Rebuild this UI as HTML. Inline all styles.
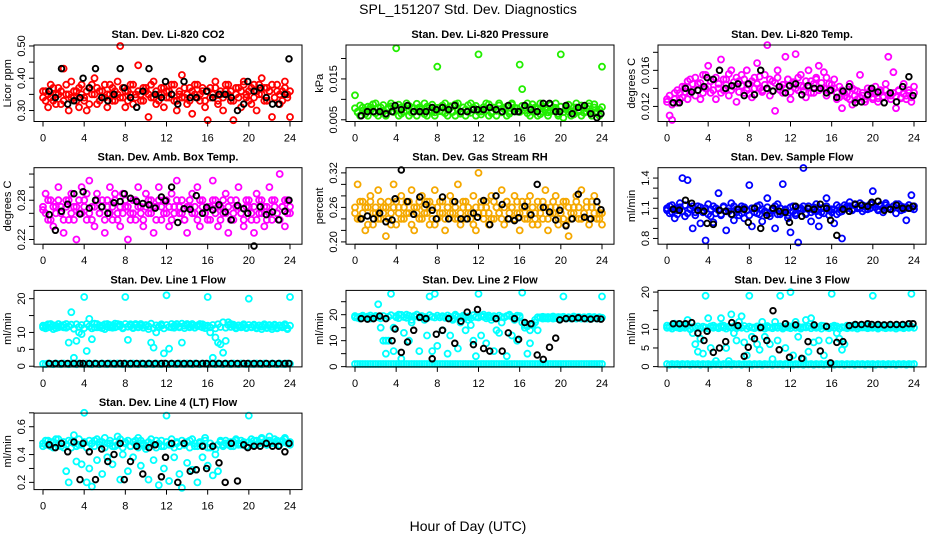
<!DOCTYPE html>
<html><head><meta charset="utf-8"><style>
html,body{margin:0;padding:0;background:#fff;}
svg{display:block;font-family:"Liberation Sans",sans-serif;}
</style></head><body>
<svg id="fig" width="936" height="540" viewBox="0 0 936 540">
<text x="468" y="14" text-anchor="middle" font-size="14">SPL_151207  Std. Dev. Diagnostics</text>
<text x="468" y="531" text-anchor="middle" font-size="14">Hour of Day (UTC)</text>
</svg>
<script>
const H=[0,0.25,0.5,0.75,1,1.25,1.5,1.75,2,2.25,2.5,2.75,3,3.25,3.5,3.75,4,4.25,4.5,4.75,5,5.25,5.5,5.75,6,6.25,6.5,6.75,7,7.25,7.5,7.75,8,8.25,8.5,8.75,9,9.25,9.5,9.75,10,10.25,10.5,10.75,11,11.25,11.5,11.75,12,12.25,12.5,12.75,13,13.25,13.5,13.75,14,14.25,14.5,14.75,15,15.25,15.5,15.75,16,16.25,16.5,16.75,17,17.25,17.5,17.75,18,18.25,18.5,18.75,19,19.25,19.5,19.75,20,20.25,20.5,20.75,21,21.25,21.5,21.75,22,22.25,22.5,22.75,23,23.25,23.5,23.75,24];
const BH=[0.6,1.2,1.8,2.4,3.0,3.6,3.9,4.5,5.1,5.7,6.3,6.9,7.5,7.9,8.5,9.1,9.7,10.3,10.9,11.5,11.9,12.5,13.1,13.7,14.3,14.9,15.5,15.9,16.5,17.1,17.7,18.3,18.9,19.5,19.9,20.5,21.1,21.7,22.3,22.9,23.5,23.9];
const xTicks=[0,4,8,12,16,20,24];

const co2A=[0.34,0.36,0.31,0.38,0.33,0.35,0.37,0.32,0.43,0.35,0.30,0.39,0.34,0.36,0.31,0.38,0.33,0.30,0.37,0.35,0.40,0.32,0.36,0.34,0.38,0.31,0.35,0.37,0.33,0.39,0.50,0.34,0.31,0.36,0.38,0.32,0.35,0.44,0.33,0.37,0.36,0.28,0.34,0.39,0.32,0.35,0.37,0.31,0.36,0.34,0.38,0.33,0.30,0.35,0.41,0.34,0.32,0.37,0.29,0.35,0.38,0.33,0.36,0.31,0.27,0.37,0.34,0.39,0.32,0.35,0.30,0.36,0.38,0.33,0.27,0.35,0.37,0.31,0.39,0.34,0.36,0.32,0.38,0.30,0.35,0.40,0.33,0.37,0.36,0.28,0.34,0.38,0.32,0.36,0.39,0.35,0.28];
const co2B=[0.36,0.33,0.35,0.34,0.37,0.32,0.35,0.36,0.33,0.38,0.35,0.34,0.36,0.33,0.37,0.35,0.34,0.36,0.32,0.38,0.35,0.37,0.33,0.36,0.34,0.35,0.38,0.33,0.36,0.35,0.34,0.37,0.36,0.33,0.35,0.38,0.34,0.36,0.35,0.33,0.37,0.35,0.38,0.34,0.36,0.33,0.35,0.37,0.34,0.36,0.35,0.38,0.33,0.36,0.34,0.37,0.35,0.33,0.36,0.38,0.34,0.35,0.37,0.33,0.36,0.34,0.35,0.37,0.33,0.36,0.34,0.38,0.35,0.36,0.33,0.37,0.34,0.36,0.38,0.35,0.33,0.37,0.34,0.36,0.38,0.35,0.37,0.33,0.36,0.38,0.34,0.36,0.35,0.33,0.37,0.34,0.36];
const co2K=[0.36,0.34,0.43,0.32,0.33,0.34,0.40,0.37,0.43,0.34,0.33,0.35,0.43,0.37,0.34,0.31,0.36,0.43,0.35,0.34,0.39,0.35,0.32,0.39,0.34,0.34,0.46,0.36,0.34,0.35,0.35,0.34,0.30,0.32,0.39,0.36,0.37,0.34,0.32,0.32,0.35,0.46];
const prA=[0.011,0.007,0.006,0.008,0.007,0.006,0.008,0.007,0.009,0.006,0.008,0.007,0.006,0.008,0.009,0.007,0.0225,0.006,0.008,0.007,0.009,0.006,0.008,0.007,0.006,0.008,0.007,0.009,0.006,0.008,0.007,0.006,0.018,0.008,0.007,0.009,0.006,0.008,0.007,0.006,0.009,0.007,0.008,0.006,0.007,0.009,0.008,0.006,0.021,0.007,0.008,0.009,0.006,0.007,0.008,0.006,0.009,0.007,0.008,0.006,0.007,0.009,0.008,0.007,0.0185,0.0125,0.008,0.009,0.006,0.007,0.008,0.006,0.009,0.007,0.008,0.006,0.007,0.008,0.009,0.006,0.021,0.0055,0.008,0.007,0.006,0.008,0.009,0.007,0.006,0.008,0.007,0.009,0.006,0.008,0.007,0.006,0.018];
const prB=[0.0078,0.0068,0.0085,0.0072,0.0064,0.0082,0.0075,0.0088,0.0066,0.0079,0.0071,0.0086,0.0063,0.0077,0.0083,0.0069,0.0074,0.0087,0.0065,0.0080,0.0072,0.0084,0.0067,0.0078,0.0089,0.0070,0.0076,0.0064,0.0082,0.0073,0.0087,0.0068,0.0079,0.0071,0.0085,0.0066,0.0077,0.0083,0.0069,0.0088,0.0072,0.0065,0.0080,0.0075,0.0086,0.0067,0.0078,0.0084,0.0070,0.0063,0.0081,0.0074,0.0088,0.0066,0.0079,0.0072,0.0085,0.0068,0.0076,0.0082,0.0065,0.0087,0.0071,0.0078,0.0069,0.0084,0.0073,0.0066,0.0080,0.0088,0.0070,0.0077,0.0064,0.0083,0.0075,0.0068,0.0086,0.0072,0.0079,0.0065,0.0082,0.0069,0.0076,0.0087,0.0071,0.0063,0.0080,0.0074,0.0085,0.0067,0.0078,0.0083,0.0070,0.0088,0.0066,0.0075,0.0081];
const prK=[0.006,0.007,0.007,0.007,0.0065,0.007,0.0085,0.0075,0.0085,0.007,0.007,0.007,0.008,0.0075,0.008,0.0075,0.0085,0.007,0.007,0.0075,0.0075,0.0075,0.008,0.0075,0.007,0.0085,0.007,0.007,0.0085,0.0075,0.007,0.009,0.009,0.007,0.007,0.0085,0.0065,0.008,0.0085,0.0065,0.0055,0.0065];
const tpA=[0.0125,0.011,0.0105,0.0128,0.0124,0.0135,0.013,0.0142,0.0128,0.015,0.0138,0.0132,0.0145,0.0128,0.0155,0.014,0.0165,0.0135,0.015,0.0128,0.0145,0.0172,0.0138,0.015,0.0132,0.016,0.0142,0.0125,0.0148,0.0155,0.0135,0.016,0.0145,0.013,0.0152,0.0168,0.014,0.0138,0.0155,0.0188,0.0132,0.0148,0.0115,0.016,0.0142,0.0135,0.0175,0.015,0.0128,0.0145,0.0178,0.0138,0.0155,0.0142,0.013,0.016,0.0148,0.0135,0.0152,0.0165,0.014,0.0158,0.0132,0.0145,0.0138,0.015,0.0128,0.0142,0.0118,0.0135,0.013,0.0145,0.0122,0.0138,0.0128,0.0155,0.0132,0.0125,0.014,0.0136,0.0128,0.0142,0.0125,0.0138,0.013,0.0145,0.0175,0.0132,0.0158,0.0118,0.0138,0.013,0.0145,0.0128,0.0135,0.0125,0.0142];
const tpB=[0.0128,0.0132,0.0122,0.0135,0.0138,0.0128,0.0142,0.0136,0.0148,0.0134,0.0145,0.0152,0.0138,0.0146,0.0135,0.0155,0.0142,0.0148,0.0138,0.0152,0.0140,0.0135,0.0150,0.0144,0.0156,0.0138,0.0147,0.0152,0.0136,0.0143,0.0150,0.0138,0.0134,0.0148,0.0140,0.0145,0.0153,0.0136,0.0144,0.0140,0.0150,0.0137,0.0146,0.0152,0.0138,0.0144,0.0140,0.0150,0.0136,0.0147,0.0140,0.0152,0.0143,0.0137,0.0148,0.0141,0.0135,0.0145,0.0150,0.0138,0.0146,0.0140,0.0152,0.0137,0.0144,0.0140,0.0135,0.0130,0.0138,0.0132,0.0136,0.0128,0.0140,0.0132,0.0137,0.0130,0.0135,0.0128,0.0133,0.0138,0.0130,0.0134,0.0129,0.0136,0.0131,0.0138,0.0133,0.0128,0.0135,0.0131,0.0137,0.0129,0.0134,0.0132,0.0138,0.0130,0.0135];
const tpK=[0.0124,0.0124,0.014,0.0136,0.0138,0.0142,0.0152,0.015,0.016,0.014,0.0143,0.0145,0.0132,0.0145,0.0133,0.016,0.014,0.0137,0.0142,0.0135,0.0143,0.0145,0.0133,0.0143,0.014,0.014,0.0135,0.0138,0.013,0.0137,0.0142,0.0124,0.0125,0.0133,0.014,0.0136,0.0124,0.0135,0.0125,0.0142,0.0153,0.0132];
const abA=[0.265,0.29,0.25,0.28,0.24,0.27,0.30,0.26,0.23,0.28,0.25,0.29,0.27,0.22,0.26,0.30,0.28,0.25,0.31,0.27,0.24,0.29,0.26,0.28,0.23,0.27,0.30,0.25,0.28,0.26,0.24,0.29,0.27,0.22,0.26,0.28,0.25,0.30,0.27,0.24,0.29,0.26,0.28,0.23,0.27,0.30,0.25,0.28,0.26,0.24,0.29,0.27,0.31,0.26,0.28,0.25,0.23,0.27,0.29,0.26,0.30,0.24,0.28,0.26,0.27,0.25,0.31,0.28,0.24,0.27,0.26,0.29,0.23,0.28,0.25,0.27,0.30,0.26,0.24,0.28,0.27,0.25,0.23,0.29,0.26,0.28,0.24,0.27,0.30,0.25,0.28,0.26,0.32,0.27,0.24,0.28,0.26];
const abB=[0.27,0.26,0.28,0.25,0.27,0.26,0.28,0.27,0.25,0.27,0.28,0.26,0.25,0.27,0.28,0.26,0.27,0.29,0.26,0.25,0.27,0.28,0.26,0.27,0.25,0.28,0.26,0.27,0.29,0.25,0.27,0.26,0.28,0.27,0.25,0.26,0.28,0.27,0.26,0.25,0.27,0.28,0.26,0.27,0.25,0.28,0.27,0.26,0.28,0.27,0.25,0.26,0.28,0.27,0.26,0.25,0.27,0.28,0.26,0.27,0.25,0.28,0.27,0.26,0.25,0.27,0.28,0.26,0.27,0.25,0.28,0.26,0.27,0.25,0.26,0.28,0.27,0.26,0.25,0.27,0.28,0.26,0.27,0.25,0.28,0.26,0.27,0.25,0.26,0.28,0.27,0.26,0.25,0.27,0.28,0.26,0.27];
const abK=[0.258,0.234,0.263,0.274,0.29,0.259,0.293,0.268,0.28,0.27,0.26,0.276,0.278,0.29,0.283,0.278,0.275,0.273,0.268,0.285,0.279,0.30,0.246,0.267,0.266,0.287,0.26,0.269,0.265,0.273,0.262,0.25,0.272,0.267,0.26,0.21,0.27,0.258,0.262,0.25,0.263,0.28];
const rhA=[0.25,0.30,0.24,0.27,0.22,0.26,0.28,0.23,0.25,0.29,0.24,0.26,0.21,0.27,0.25,0.30,0.23,0.26,0.28,0.24,0.25,0.27,0.29,0.22,0.26,0.24,0.28,0.25,0.27,0.23,0.26,0.29,0.24,0.25,0.27,0.22,0.26,0.28,0.25,0.24,0.30,0.23,0.26,0.27,0.25,0.24,0.28,0.22,0.32,0.26,0.25,0.27,0.23,0.28,0.24,0.26,0.25,0.29,0.23,0.27,0.24,0.26,0.28,0.25,0.22,0.27,0.26,0.24,0.28,0.23,0.25,0.27,0.26,0.24,0.29,0.22,0.26,0.25,0.28,0.23,0.26,0.24,0.27,0.21,0.25,0.26,0.28,0.24,0.29,0.25,0.27,0.23,0.26,0.28,0.24,0.25,0.23];
const rhB=[0.26,0.24,0.27,0.25,0.26,0.23,0.27,0.25,0.26,0.24,0.27,0.25,0.26,0.24,0.23,0.26,0.27,0.25,0.24,0.26,0.27,0.25,0.23,0.26,0.25,0.27,0.24,0.26,0.25,0.27,0.24,0.23,0.26,0.27,0.25,0.24,0.26,0.25,0.27,0.26,0.24,0.25,0.27,0.24,0.26,0.25,0.23,0.26,0.25,0.27,0.24,0.26,0.25,0.24,0.27,0.26,0.25,0.24,0.26,0.27,0.25,0.26,0.24,0.27,0.25,0.26,0.24,0.27,0.25,0.26,0.24,0.23,0.25,0.27,0.26,0.24,0.25,0.27,0.26,0.24,0.25,0.27,0.23,0.26,0.24,0.25,0.27,0.26,0.24,0.25,0.26,0.24,0.27,0.25,0.26,0.24,0.25];
const rhK=[0.24,0.245,0.24,0.25,0.235,0.238,0.275,0.325,0.27,0.248,0.278,0.265,0.255,0.24,0.278,0.24,0.27,0.24,0.24,0.25,0.243,0.272,0.23,0.28,0.265,0.24,0.237,0.242,0.262,0.247,0.30,0.26,0.252,0.238,0.255,0.228,0.24,0.283,0.243,0.24,0.27,0.256];
const sfA=[1.10,1.05,1.13,1.00,1.08,1.15,1.40,1.02,1.38,1.10,0.90,1.06,1.12,0.95,1.08,0.78,1.14,1.02,0.96,1.10,1.25,1.04,1.12,0.88,1.07,1.15,0.98,1.09,1.03,1.12,1.00,1.08,1.33,0.92,1.10,1.05,1.13,0.97,1.06,1.20,1.02,1.09,0.90,1.14,1.04,1.34,1.08,1.00,0.86,1.12,1.03,0.76,1.10,1.50,1.05,1.12,0.97,1.08,1.14,0.92,1.06,1.10,1.20,1.03,1.09,0.95,1.13,1.06,0.80,1.10,1.12,1.16,1.08,1.13,1.10,1.15,1.07,1.12,1.09,1.14,1.27,1.11,1.08,1.13,1.06,1.15,1.10,1.09,1.12,1.05,1.14,1.08,1.11,0.98,1.13,1.23,1.09];
const sfB=[1.08,1.12,1.06,1.10,1.04,1.11,1.07,1.13,1.05,1.09,1.12,1.03,1.08,1.11,1.06,1.10,1.04,1.09,1.12,1.05,1.08,1.03,1.11,1.07,1.10,1.04,1.12,1.06,1.09,1.05,1.11,1.08,1.03,1.10,1.06,1.12,1.04,1.09,1.07,1.11,1.05,1.08,1.12,1.04,1.10,1.06,1.09,1.03,1.11,1.07,1.05,1.10,1.08,1.12,1.04,1.09,1.06,1.11,1.07,1.03,1.10,1.05,1.12,1.08,1.06,1.09,1.04,1.11,1.07,1.13,1.10,1.12,1.09,1.14,1.11,1.10,1.13,1.09,1.12,1.10,1.14,1.11,1.09,1.12,1.10,1.13,1.11,1.09,1.12,1.14,1.10,1.12,1.09,1.11,1.13,1.10,1.12];
const sfK=[1.09,1.08,1.18,1.15,1.08,1.07,0.95,0.94,1.08,1.07,1.04,1.09,1.09,0.96,1.10,0.90,1.03,1.10,1.07,1.06,0.96,1.12,1.02,1.10,1.09,1.14,1.10,0.98,0.83,1.09,1.07,1.14,1.13,1.12,1.16,1.17,1.08,1.09,1.13,1.10,1.10,1.12];
const l1A=[11.5,12,11.5,12.5,11,12,11.5,12,11.5,12.5,7,16,2.5,7.5,10,9.5,20.5,4.5,14,8,11.5,12.5,11.5,12,11,12.5,11.5,12,11.5,12.5,12,11.5,20.5,7.8,12,11.5,12.5,11.5,12,11.5,12,11,7,5.5,10,11.5,12,3.8,21,5.2,11.5,12,12.5,11.5,7,12,12.5,11.5,12,11.5,12,12.5,11.5,12,20.5,10,2.5,8.5,7,6.5,4,7.5,13,12.5,12,11.5,12,11.5,12,11.5,20,11.5,12,11.5,12,11,12,11.5,12,11,12,11.5,12,11.5,12,11,20.5];
const l1B=[12,11.2,12.4,11.6,12.1,11.3,12.5,11.7,12.2,11.4,11.8,12.3,11.1,12.4,11.6,12.2,11.3,12.5,11.8,11.2,12.6,11.5,12.1,11.3,12.4,11.7,12.2,11.4,12.6,11.8,12.3,11.2,12.5,11.7,12.4,11.3,12.1,11.6,12.5,11.4,12.2,11.8,12.6,11.3,12.1,11.7,12.4,11.2,12.2,11.6,12.5,11.4,12.3,11.8,12.6,11.3,12.2,11.7,12.5,11.4,12.1,11.8,12.4,11.3,12,11.5,12.2,11.2,12.4,11.6,13,11.4,12.2,11.6,12.3,11.2,12.1,11.7,12.4,11.3,12.2,11.6,12.3,11.2,12.1,11.7,12.4,11.3,12.2,11.6,12.3,11.2,12.1,11.7,12.4,11.3,12];
const l1Z=[0.7,0.6,0.8,0.7,0.6,0.8,0.7,0.6,0.8,0.7,0.6,0.8,0.7,0.6,0.8,0.7,0.6,0.8,0.7,0.6,0.8,0.7,0.6,0.8,0.7,0.6,0.8,0.7,0.6,0.8,0.7,0.6,0.8,0.7,0.6,0.8,0.7,0.6,0.8,0.7,0.6,0.8,0.7,0.6,0.8,0.7,0.6,0.8,0.7,0.6,0.8,0.7,0.6,0.8,0.7,0.6,0.8,0.7,0.6,0.8,0.7,0.6,0.8,0.7,0.6,0.8,0.7,0.6,0.8,0.7,0.6,0.8,0.7,0.6,0.8,0.7,0.6,0.8,0.7,0.6,0.8,0.7,0.6,0.8,0.7,0.6,0.8,0.7,0.6,0.8,0.7,0.6,0.8,0.7,0.6,0.8,0.7];
const l1K=[0.8,0.8,0.8,0.8,0.8,0.8,0.8,0.8,0.8,0.8,0.8,0.8,0.8,0.8,0.8,0.8,0.8,0.8,0.8,0.8,0.8,0.8,0.8,0.8,0.8,0.8,0.8,0.8,0.8,0.8,0.8,0.8,0.8,0.8,0.8,0.8,0.8,0.8,0.8,0.8,0.8,0.8];
const l2A=[19,19,18.5,19.5,19,19,18.5,19,19.5,24,15,10,5,10,28,6,19,20,3,13,20,10,18,19.5,20,6,19,18,12,27,6,28,8,19,14,19,5,12,18,20,7,17,19,14,18,16,10,4,28,12,20,9,19,18,6,14,13,17,19,4,20,12,18,10,19.5,28.5,15,5,9,16,18,14,19,18.5,19,18.5,19,18.5,19,18.5,19,27,18.5,19,18.5,19,18.5,19,18.5,19,18.5,19,18.5,19,18.5,19,27];
const l2B=[19.5,18.8,19.2,19.6,18.9,19.3,19.7,18.8,19.4,19,18.6,19.5,10,19.2,19.8,15,19.4,18.7,19.9,19.1,18.8,19.6,17,19.3,20,18.9,19.5,19.1,18.7,19.8,19.2,18.9,19.6,19,19.4,18.8,19.7,19.1,18.6,19.5,19.2,18.8,19.6,19,19.3,18.7,19.8,19.1,18.9,19.5,19.2,18.6,19.7,19,19.4,18.8,19.6,19.1,18.9,19.5,19.8,19.2,18.8,19.6,19,17,16,15.5,14,16.5,17,19,18.8,19.2,18.6,19.1,18.8,19.3,18.7,19.1,18.9,19.2,18.7,19,18.8,19.3,18.9,19.1,18.7,19,18.8,19.2,18.9,19.1,18.7,19,18.8];
const l2Z=[1,1,1,1,1,1,1,1,1,1,1,1,1,1,1,1,1,1,1,1,1,1,1,1,1,1,1,1,1,1,1,1,1,1,1,1,1,1,1,1,1,1,1,1,1,1,1,1,1,1,1,1,1,1,1,1,1,1,1,1,1,1,1,1,1,1,1,1,1,1,1,1,1,1,1,1,1,1,1,1,1,1,1,1,1,1,1,1,1,1,1,1,1,1,1,1,1];
const l2K=[18.5,18.3,18.5,19.5,18.5,10,14.5,5.5,9.5,14,19,18.5,3,12.5,14,18.5,9,17.5,21,8.5,22,7,6,18.5,6,13,18.5,10.5,17,16.5,4.5,2.8,7.5,11,18,18.5,18.5,18.8,18.5,18.3,18.5,18.3];
const l3A=[11,10.5,11,11.5,10.5,11,10.5,11,12.5,10,9,6,4,7.5,3.5,19,13,5,11,1.5,10.5,13,11,5,1.5,14,9,7,12,13.5,6.5,3,19,8,10.5,6,4.5,12,8,10.5,6,2,12,7,19,10.5,5,11,20,3,12,8,10.5,2,12.5,4,13,6.5,10.5,7,11,3,10.5,7,19.5,11,9,7.5,4.5,6,11,10.5,11,10.5,11,10.5,11,10.5,11,10.5,19,11,10.5,11,10.5,11,10.5,11,10.5,11,10.5,11,10.5,11,10.5,19.5];
const l3B=[10.4,10.8,10.2,10.6,11,10.3,10.7,10.4,10.9,10.2,10.6,10.4,10.8,10.3,10.7,10.5,10.2,10.8,10.4,10.6,10.3,10.9,10.5,10.2,10.7,10.4,10.8,10.3,10.6,10.4,10.9,10.2,10.7,10.5,10.3,10.8,10.4,10.6,10.2,10.9,10.5,10.3,10.7,10.4,10.8,10.2,10.6,10.5,10.3,10.9,10.4,10.7,10.2,10.6,10.5,10.8,10.3,10.7,10.4,10.6,10.2,10.9,10.5,10.3,10.7,10.4,10.8,10.2,10.6,10.5,10.3,10.9,10.4,10.7,10.2,10.6,10.5,10.8,10.3,10.7,10.4,10.6,10.2,10.9,10.5,10.3,10.7,10.4,10.8,10.2,10.6,10.5,10.3,10.9,10.4,10.7,10.4];
const l3Z=[0.7,0.5,0.7,0.6,0.7,0.5,0.7,0.6,0.7,0.5,0.7,0.6,0.7,0.5,0.7,0.6,0.7,0.5,0.7,0.6,0.7,0.5,0.7,0.6,0.7,0.5,0.7,0.6,0.7,0.5,0.7,0.6,0.7,0.5,0.7,0.6,0.7,0.5,0.7,0.6,0.7,0.5,0.7,0.6,0.7,0.5,0.7,0.6,0.7,0.5,0.7,0.6,0.7,0.5,0.7,0.6,0.7,0.5,0.7,0.6,0.7,0.5,0.7,0.6,0.7,0.5,0.7,0.6,0.7,0.5,0.7,0.6,0.7,0.5,0.7,0.6,0.7,0.5,0.7,0.6,0.7,0.5,0.7,0.6,0.7,0.5,0.7,0.6,0.7,0.5,0.7,0.6,0.7,0.5,0.7,0.6,0.7];
const l3K=[11.5,11.5,11.5,11.8,9,7,9.5,3.8,5,6.7,11.8,11,2.8,5.2,7.5,10.5,7,15,4.5,11.5,2.5,11.2,2.2,6.7,11.2,4.2,10.8,1,6.5,6.7,11,11.3,11.3,11.5,11.3,11.3,11.2,11.3,11.3,11.3,11.5,11.5];
const l4A=[0.48,0.47,0.50,0.46,0.49,0.51,0.47,0.48,0.45,0.28,0.20,0.49,0.54,0.35,0.47,0.33,0.70,0.20,0.30,0.17,0.50,0.36,0.49,0.26,0.52,0.38,0.48,0.33,0.46,0.53,0.22,0.40,0.49,0.28,0.46,0.38,0.50,0.52,0.32,0.47,0.44,0.22,0.48,0.36,0.50,0.18,0.46,0.30,0.68,0.21,0.47,0.38,0.49,0.26,0.16,0.48,0.34,0.50,0.29,0.46,0.20,0.48,0.38,0.52,0.32,0.45,0.25,0.40,0.28,0.50,0.46,0.48,0.47,0.49,0.46,0.50,0.48,0.47,0.49,0.46,0.68,0.48,0.50,0.47,0.49,0.51,0.48,0.47,0.53,0.49,0.48,0.50,0.47,0.49,0.51,0.48,0.47];
const l4B=[0.46,0.50,0.47,0.49,0.45,0.48,0.51,0.46,0.49,0.47,0.50,0.45,0.48,0.46,0.51,0.47,0.49,0.45,0.50,0.48,0.46,0.51,0.47,0.49,0.45,0.48,0.50,0.46,0.49,0.47,0.51,0.45,0.48,0.50,0.46,0.49,0.47,0.45,0.50,0.48,0.46,0.49,0.51,0.47,0.45,0.48,0.50,0.46,0.49,0.47,0.51,0.45,0.48,0.46,0.50,0.47,0.49,0.45,0.51,0.48,0.46,0.49,0.47,0.50,0.45,0.48,0.46,0.44,0.47,0.49,0.47,0.50,0.48,0.46,0.49,0.51,0.47,0.50,0.48,0.46,0.49,0.51,0.47,0.50,0.48,0.52,0.49,0.47,0.50,0.48,0.51,0.49,0.47,0.50,0.52,0.48,0.49];
const l4K=[0.47,0.45,0.48,0.42,0.49,0.22,0.48,0.42,0.22,0.44,0.35,0.40,0.48,0.22,0.35,0.46,0.26,0.45,0.47,0.24,0.38,0.48,0.20,0.48,0.28,0.29,0.46,0.30,0.46,0.34,0.20,0.48,0.21,0.47,0.45,0.46,0.46,0.48,0.46,0.46,0.42,0.48];

const panels=[
 {n:'co2',title:'Stan. Dev. Li-820 CO2',ylab:'Licor ppm',r:0,c:0,y0:0.266,y1:0.503,yt:[0.30,0.35,0.40,0.45,0.50],yl:['0.30','','0.40','','0.50'],col:'#ff0000',layers:[co2B,co2A],blk:co2K},
 {n:'pressure',title:'Stan. Dev. Li-820 Pressure',ylab:'kPa',r:0,c:1,y0:0.00458,y1:0.0233,yt:[0.005,0.010,0.015,0.020],yl:['0.005','','0.015',''],col:'#22ee00',layers:[prB,prA],blk:prK},
 {n:'temp',title:'Stan. Dev. Li-820 Temp.',ylab:'degrees C',r:0,c:2,y0:0.01033,y1:0.01881,yt:[0.012,0.014,0.016,0.018],yl:['0.012','','0.016',''],col:'#ff00ff',layers:[tpB,tpA],blk:tpK},
 {n:'amb-box-temp',title:'Stan. Dev. Amb. Box Temp.',ylab:'degrees C',r:1,c:0,y0:0.2128,y1:0.3297,yt:[0.22,0.24,0.26,0.28,0.30,0.32],yl:['0.22','','','0.28','',''],col:'#ff00ff',layers:[abB,abA],blk:abK},
 {n:'gas-rh',title:'Stan. Dev. Gas Stream RH',ylab:'percent',r:1,c:1,y0:0.196,y1:0.329,yt:[0.20,0.22,0.24,0.26,0.28,0.30,0.32],yl:['0.20','','','0.26','','','0.32'],col:'#f5a800',layers:[rhB,rhA],blk:rhK},
 {n:'sample-flow',title:'Stan. Dev. Sample Flow',ylab:'ml/min',r:1,c:2,y0:0.743,y1:1.503,yt:[0.8,0.9,1.0,1.1,1.2,1.3,1.4],yl:['0.8','','','1.1','','','1.4'],col:'#0000ff',layers:[sfB,sfA],blk:sfK},
 {n:'line1-flow',title:'Stan. Dev. Line 1 Flow',ylab:'ml/min',r:2,c:0,y0:-0.2,y1:22.45,yt:[0,5,10,15,20],yl:['0','5','10','','20'],col:'#00ffff',layers:[l1Z,l1B,l1A],blk:l1K},
 {n:'line2-flow',title:'Stan. Dev. Line 2 Flow',ylab:'ml/min',r:2,c:1,y0:-0.1,y1:29.35,yt:[0,5,10,15,20,25],yl:['0','','10','','20',''],col:'#00ffff',layers:[l2Z,l2B,l2A],blk:l2K},
 {n:'line3-flow',title:'Stan. Dev. Line 3 Flow',ylab:'ml/min',r:2,c:2,y0:-0.08,y1:20.45,yt:[0,5,10,15,20],yl:['0','5','10','','20'],col:'#00ffff',layers:[l3Z,l3B,l3A],blk:l3K},
 {n:'line4-flow',title:'Stan. Dev. Line 4 (LT) Flow',ylab:'ml/min',r:3,c:0,y0:0.148,y1:0.698,yt:[0.2,0.3,0.4,0.5,0.6,0.7],yl:['0.2','','0.4','','0.6',''],col:'#00ffff',layers:[l4B,l4A],blk:l4K}
];
const NS='http://www.w3.org/2000/svg';
const fig=document.getElementById('fig');
function mk(tag,attrs,parent){const e=document.createElementNS(NS,tag);for(const k in attrs)e.setAttribute(k,attrs[k]);parent.appendChild(e);return e;}
panels.forEach(p=>{
  const L=34+312*p.c, R=L+268, T=45+122.7*p.r, B=T+76.5;
  const xs=h=>L+9+h*(247/24);
  const ys=v=>B-(v-p.y0)/(p.y1-p.y0)*(B-T);
  const g=mk('g',{},fig);
  
  
  const t=mk('text',{x:(L+R)/2,y:T-7,'text-anchor':'middle','font-size':'11','font-weight':'bold'},g);
  t.textContent=p.title;
  
  
  const yl=mk('text',{x:0,y:0,'text-anchor':'middle','font-size':'11',transform:`translate(${L-23},${(T+B)/2}) rotate(-90)`},g);
  yl.textContent=p.ylab;
  
  
  const pts=mk('g',{fill:'none','stroke-width':'1.8'},g);
  
  
  p.layers.forEach(arr=>{
    for(let i=0;i<Math.min(H.length,arr.length);i++){
      const c=mk('circle',{cx:xs(H[i]).toFixed(1),cy:ys(arr[i]).toFixed(1),r:'3',stroke:p.col},pts);
      
      
    }
  });
  for(let i=0;i<Math.min(BH.length,p.blk.length);i++){
    const c=mk('circle',{cx:xs(BH[i]).toFixed(1),cy:ys(p.blk[i]).toFixed(1),r:'2.8',stroke:'#000','stroke-width':'1.9'},pts);
    
    
  }
  const box=mk('rect',{x:L,y:T,width:R-L,height:B-T,fill:'none',stroke:'#000','stroke-width':'1'},g);
  
  
  const xa=mk('g',{},g);
  
  
  mk('line',{x1:xs(0),x2:xs(24),y1:B,y2:B,stroke:'#000'},xa);
  xTicks.forEach(v=>{
    mk('line',{x1:xs(v),x2:xs(v),y1:B,y2:B+5,stroke:'#000'},xa);
    const tl=mk('text',{x:xs(v),y:B+20,'text-anchor':'middle','font-size':'11'},xa);
    tl.textContent=v;
    
    
  });
  const ya=mk('g',{},g);
  
  
  mk('line',{x1:L,x2:L,y1:ys(p.yt[0]),y2:ys(p.yt[p.yt.length-1]),stroke:'#000'},ya);
  p.yt.forEach((v,i)=>{
    mk('line',{x1:L-5,x2:L,y1:ys(v),y2:ys(v),stroke:'#000'},ya);
    if(p.yl[i]){
      const tl=mk('text',{x:0,y:0,'text-anchor':'middle','font-size':'11',transform:`translate(${L-9},${ys(v)}) rotate(-90)`},ya);
      tl.textContent=p.yl[i];
      
      
    }
  });
});
</script>
</body></html>
